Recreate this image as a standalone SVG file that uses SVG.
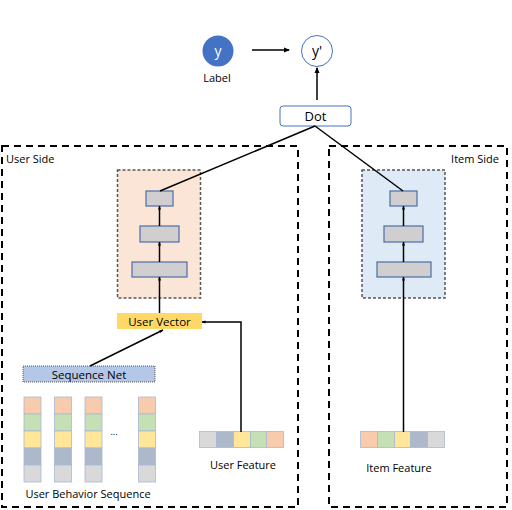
<svg xmlns="http://www.w3.org/2000/svg" width="512" height="510" viewBox="0 0 512 510">
<defs>
<marker id="ah" markerWidth="6" markerHeight="6" refX="5" refY="3" orient="auto" markerUnits="userSpaceOnUse">
<path d="M0,0.5 L6,3 L0,5.5 Z" fill="#000"/>
</marker>
<marker id="ahs" markerWidth="4" markerHeight="4" refX="3.5" refY="2" orient="auto" markerUnits="userSpaceOnUse">
<path d="M0,0.5 L4,2 L0,3.5 Z" fill="#000"/>
</marker>
</defs>
<style>
text{font-family:"Open Sans","Noto Sans","DejaVu Sans",sans-serif;fill:#000}
.side{fill:none;stroke:#000;stroke-width:2;stroke-dasharray:7,5}
.tower{stroke:#555;stroke-width:1.5;stroke-dasharray:3,2}
.layer{fill:#D0CECE;stroke:#4A6EA8;stroke-width:1.2}
.c1{fill:#F8CBAD;stroke:#A9B9D4;stroke-width:0.8}
.c2{fill:#C5E0B4;stroke:#A9B9D4;stroke-width:0.8}
.c3{fill:#FFE699;stroke:#A9B9D4;stroke-width:0.8}
.c4{fill:#ADB9CA;stroke:#A9B9D4;stroke-width:0.8}
.c5{fill:#D9D9D9;stroke:#A9B9D4;stroke-width:0.8}
.ln{fill:none;stroke:#000;stroke-width:1.5}
</style>

<g id="label-node">
<circle cx="218" cy="51" r="15.5" fill="#4472C4"/>
<text x="218" y="56" font-size="14" text-anchor="middle" style="fill:#fff">y</text>
<text x="217" y="82" font-size="11" text-anchor="middle">Label</text>
</g>
<g id="pred-node">
<circle cx="317" cy="51" r="15.5" fill="#fff" stroke="#4472C4" stroke-width="1"/>
<text x="317" y="56" font-size="14" text-anchor="middle">y'</text>
</g>
<g id="dot-node">
<rect x="280" y="106" width="71" height="20" rx="3" fill="#fff" stroke="#4472C4" stroke-width="1"/>
<text x="315.5" y="121" font-size="13" text-anchor="middle">Dot</text>
</g>

<g id="user-side">
<rect class="side" x="2" y="146" width="296" height="361"/>
<text x="6" y="163" font-size="11">User Side</text>
</g>
<g id="item-side">
<rect class="side" x="329" y="146" width="178" height="361"/>
<text x="499" y="163" font-size="11" text-anchor="end">Item Side</text>
</g>

<g id="user-tower">
<rect class="tower" x="117.5" y="170" width="83" height="128" fill="#FBE5D6"/>
<rect class="layer" x="146" y="191" width="27" height="15"/>
<rect class="layer" x="140" y="226" width="39" height="16"/>
<rect class="layer" x="132" y="262" width="55" height="15"/>
</g>
<g id="item-tower">
<rect class="tower" x="362" y="170" width="83" height="128" fill="#DEEBF7"/>
<rect class="layer" x="390" y="191" width="27" height="15"/>
<rect class="layer" x="384" y="226" width="39" height="16"/>
<rect class="layer" x="377" y="262" width="54" height="15"/>
</g>

<g id="user-vector">
<rect x="117" y="313" width="85" height="16" fill="#FFD966"/>
<text x="159.5" y="326" font-size="11.5" text-anchor="middle">User Vector</text>
</g>
<g id="sequence-net">
<rect x="23" y="366" width="132" height="16" fill="#B4C7E7" stroke="#333" stroke-width="0.8" stroke-dasharray="1,1"/>
<text x="89" y="379" font-size="11.5" text-anchor="middle">Sequence Net</text>
</g>

<g id="behavior-sequence">
<g transform="translate(24,397)">
<rect class="c1" x="0" y="0" width="17" height="17"/><rect class="c2" x="0" y="17" width="17" height="17"/><rect class="c3" x="0" y="34" width="17" height="17"/><rect class="c4" x="0" y="51" width="17" height="17"/><rect class="c5" x="0" y="68" width="17" height="17"/>
</g>
<g transform="translate(54.5,397)">
<rect class="c1" x="0" y="0" width="17" height="17"/><rect class="c2" x="0" y="17" width="17" height="17"/><rect class="c3" x="0" y="34" width="17" height="17"/><rect class="c4" x="0" y="51" width="17" height="17"/><rect class="c5" x="0" y="68" width="17" height="17"/>
</g>
<g transform="translate(85,397)">
<rect class="c1" x="0" y="0" width="17" height="17"/><rect class="c2" x="0" y="17" width="17" height="17"/><rect class="c3" x="0" y="34" width="17" height="17"/><rect class="c4" x="0" y="51" width="17" height="17"/><rect class="c5" x="0" y="68" width="17" height="17"/>
</g>
<g transform="translate(138.5,397)">
<rect class="c1" x="0" y="0" width="17" height="17"/><rect class="c2" x="0" y="17" width="17" height="17"/><rect class="c3" x="0" y="34" width="17" height="17"/><rect class="c4" x="0" y="51" width="17" height="17"/><rect class="c5" x="0" y="68" width="17" height="17"/>
</g>
<text x="114" y="435" font-size="9" text-anchor="middle">...</text>
<text x="88" y="498" font-size="11" text-anchor="middle">User Behavior Sequence</text>
</g>

<g id="user-feature">
<rect class="c5" x="199.5" y="431.5" width="17" height="16"/><rect class="c4" x="216.5" y="431.5" width="17" height="16"/><rect class="c3" x="233.5" y="431.5" width="17" height="16"/><rect class="c2" x="250.5" y="431.5" width="16" height="16"/><rect class="c1" x="266.5" y="431.5" width="17" height="16"/>
<text x="243" y="469" font-size="11" text-anchor="middle">User Feature</text>
</g>

<g id="item-feature">
<rect class="c1" x="360.5" y="431.5" width="17" height="16"/><rect class="c2" x="377.5" y="431.5" width="17" height="16"/><rect class="c3" x="394.5" y="431.5" width="16" height="16"/><rect class="c4" x="410.5" y="431.5" width="17" height="16"/><rect class="c5" x="427.5" y="431.5" width="17" height="16"/>
<text x="399" y="472" font-size="11" text-anchor="middle">Item Feature</text>
</g>

<g id="connectors">
<line class="ln" x1="252" y1="50" x2="289" y2="50" marker-end="url(#ah)"/>
<line class="ln" x1="317" y1="100" x2="317" y2="68" marker-end="url(#ah)"/>
<line class="ln" x1="315" y1="126" x2="160" y2="191"/>
<line class="ln" x1="315" y1="126" x2="403" y2="191"/>
<line class="ln" x1="159.5" y1="226" x2="159.5" y2="206" marker-end="url(#ahs)"/>
<line class="ln" x1="159.5" y1="262" x2="159.5" y2="242" marker-end="url(#ahs)"/>
<line class="ln" x1="159.5" y1="313" x2="159.5" y2="277" marker-end="url(#ahs)"/>
<line class="ln" x1="403.5" y1="262" x2="403.5" y2="242" marker-end="url(#ahs)"/>
<line class="ln" x1="403.5" y1="226" x2="403.5" y2="206" marker-end="url(#ahs)"/>
<line class="ln" x1="403.5" y1="432" x2="403.5" y2="277" marker-end="url(#ahs)"/>
<line class="ln" x1="90" y1="366" x2="163" y2="330" marker-end="url(#ahs)"/>
<polyline class="ln" points="241,432 241,322 202,322" marker-end="url(#ahs)"/>
</g>
</svg>
